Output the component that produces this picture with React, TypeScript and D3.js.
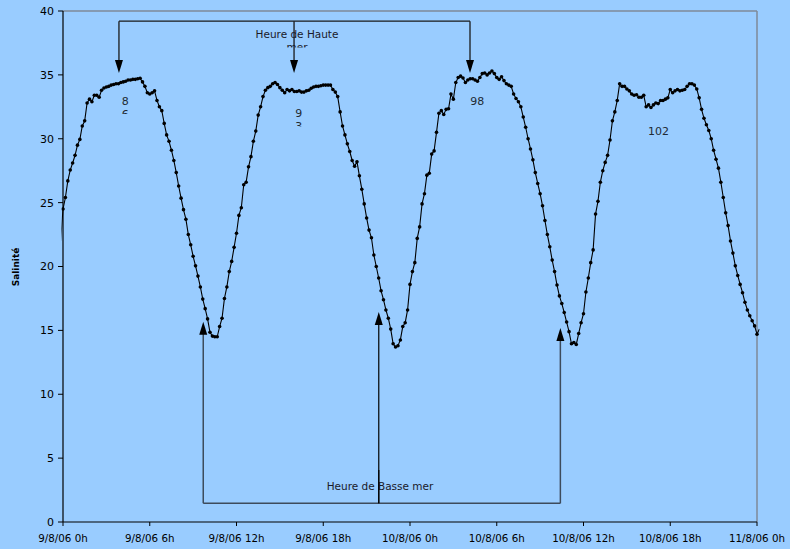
import React from "react";
import * as d3 from "d3";

// Salinity every 10 minutes, starting 10 minutes before 9/8/06 0h
const startHour = -1 / 6;
const stepHours = 1 / 6;
const salinity = [
  22.0, 24.5, 25.4, 26.7, 27.55, 28.1, 28.7, 29.5, 29.95, 31.0, 31.4,
  32.8, 33.1, 32.9, 33.4, 33.4, 33.25, 33.8, 33.97, 34.05, 34.1,
  34.2, 34.25, 34.3, 34.3, 34.4, 34.45, 34.5, 34.6, 34.6, 34.65,
  34.65, 34.7, 34.73, 34.45, 34.1, 33.6, 33.5, 33.6, 33.75, 33.0,
  32.5, 32.2, 31.2, 30.3, 29.8, 29.1, 28.3, 27.35, 26.3, 25.35,
  24.45, 23.7, 22.5, 21.7, 20.8, 20.05, 19.25, 18.4, 17.45, 16.7,
  15.9, 14.85, 14.55, 14.5, 14.5, 15.3, 15.95, 17.5, 18.4, 19.6,
  20.4, 21.5, 22.6, 24.0, 24.6, 26.4, 26.6, 27.8, 28.6, 29.8,
  30.6, 31.85, 32.5, 33.3, 33.8, 34.0, 34.1, 34.3, 34.4, 34.25,
  34.0, 33.8, 33.6, 33.85, 33.75, 33.85, 33.7, 33.7, 33.75, 33.65,
  33.65, 33.75, 33.8, 33.95, 34.05, 34.1, 34.1, 34.15, 34.2, 34.2,
  34.2, 34.2, 33.85, 33.65, 33.3, 32.1, 31.0, 30.3, 29.6, 29.0,
  28.3, 27.85, 28.2, 27.1, 26.05, 24.9, 23.8, 22.85, 22.25, 20.9,
  20.0, 19.1, 18.1, 17.4, 16.6, 15.95, 15.1, 13.95, 13.7, 13.8,
  14.25, 15.3, 15.6, 16.6, 18.6, 19.6, 20.3, 22.2, 23.1, 24.9,
  25.7, 27.15, 27.3, 28.8, 29.05, 30.5, 32.0, 32.2, 31.9, 32.3,
  32.35, 33.5, 33.1, 34.4, 34.8, 34.9, 34.75, 34.4, 34.6, 34.7,
  34.7, 34.6, 34.5, 34.8, 35.1, 35.15, 35.0, 35.15, 35.3, 35.1,
  34.8, 34.65, 34.85, 34.55, 34.3, 34.2, 34.1, 33.5, 33.15, 32.9,
  32.5, 31.7, 30.9, 30.0, 29.2, 28.35, 27.35, 26.5, 25.7, 24.75,
  23.6, 22.5, 21.55, 20.5, 19.6, 18.55, 17.7, 17.1, 16.4, 15.65,
  14.9, 13.95, 14.05, 13.9, 14.75, 15.6, 16.3, 18.0, 19.1, 20.3,
  21.3, 24.1, 25.1, 26.6, 27.5, 28.15, 28.7, 29.9, 31.4, 32.1,
  33.0, 34.3, 34.1, 34.1, 33.9, 33.75, 33.5, 33.4, 33.45, 33.25,
  33.25, 33.4, 32.5, 32.65, 32.45, 32.65, 32.8, 32.75, 33.0, 33.0,
  33.1, 33.2, 33.85, 33.6, 33.75, 33.85, 33.75, 33.8, 33.85, 34.1,
  34.3, 34.3, 34.2, 33.9, 33.2, 32.3, 31.6, 31.1, 30.65, 30.0,
  29.1, 28.4, 27.7, 26.6, 25.4, 24.2, 23.2, 22.0, 21.05, 20.05,
  19.3, 18.6, 17.95, 17.2, 16.6, 16.15, 15.75, 15.35, 14.7, 15.1,
];

const xTickHours = [0, 6, 12, 18, 24, 30, 36, 42, 48];
const xTickLabels = [
  "9/8/06 0h", "9/8/06 6h", "9/8/06 12h", "9/8/06 18h",
  "10/8/06 0h", "10/8/06 6h", "10/8/06 12h", "10/8/06 18h", "11/8/06 0h",
];
const yTicks = [0, 5, 10, 15, 20, 25, 30, 35, 40];

// High tide arrows (hour, salinity at arrow tip), low tide arrows
const highTideHours = [3.87, 15.98, 28.15];
const highTideTip = 35.15;
const highTideBar = 39.2;
const lowTideHours = [9.7, 21.84, 34.4];
const lowTideTips = [15.68, 16.44, 15.19];
const lowTideBar = 1.46;

// Tide coefficient labels (hour, salinity of baseline, text lines)
const coefLabels = [
  { h: 4.3, v: 32.65, lines: ["8", "6"] },
  { h: 16.3, v: 31.68, lines: ["9", "3"] },
  { h: 28.65, v: 32.65, lines: ["98"] },
  { h: 41.18, v: 30.3, lines: ["102"] },
];

const W = 790;
const H = 549;
const FONT = "'DejaVu Sans', Verdana, sans-serif";

export default function App() {
  const x = d3.scaleLinear().domain([0, 48]).range([63, 757]);
  const y = d3.scaleLinear().domain([0, 40]).range([522, 11]);

  const pts = salinity.map((v, i) => ({ h: startHour + i * stepHours, v }));
  const line = d3
    .line<{ h: number; v: number }>()
    .x((d) => x(d.h))
    .y((d) => y(d.v));
  const markers = pts.filter((d) => d.h >= -1e-6 && d.h <= 48 + 1e-6);

  const arrowDown = (cx: number, tipY: number) =>
    `M${cx - 4},${tipY - 13} L${cx + 4},${tipY - 13} L${cx},${tipY} Z`;
  const arrowUp = (cx: number, tipY: number) =>
    `M${cx - 4},${tipY + 13} L${cx + 4},${tipY + 13} L${cx},${tipY} Z`;

  const x0 = x(0);
  const x1 = x(48);

  return (
    <svg
      width={W}
      height={H}
      style={{ position: "absolute", left: 0, top: 0, background: "#99CCFF" }}
      fontFamily={FONT}
    >
      <defs>
        <clipPath id="plotClip">
          <rect x={61.5} y={0} width={698} height={H} />
        </clipPath>
        <clipPath id="merClip">
          <rect x={0} y={0} width={W} height={47.5} />
        </clipPath>
        {coefLabels.map((c, i) => (
          <clipPath id={`coefClip${i}`} key={i}>
            <rect x={0} y={0} width={W} height={y(c.v) + 9.2} />
          </clipPath>
        ))}
      </defs>
      <rect x={0} y={0} width={W} height={H} fill="#99CCFF" />

      {/* plot frame */}
      <line x1={x0} x2={x1} y1={y(40)} y2={y(40)} stroke="#7f8a99" strokeWidth={1.5} />
      <line x1={x1} x2={x1} y1={y(40)} y2={y(0)} stroke="#7f8a99" strokeWidth={1.5} />

      {/* y axis */}
      <line x1={x0} x2={x0} y1={y(40)} y2={y(0)} stroke="#000" strokeWidth={1.2} />
      {yTicks.map((t) => (
        <g key={t}>
          <line x1={x0 - 5} x2={x0} y1={y(t)} y2={y(t)} stroke="#000" strokeWidth={1} />
          <text
            x={x0 - 9}
            y={y(t)}
            dy="0.36em"
            textAnchor="end"
            fontSize={11}
            fill="#000"
          >
            {t}
          </text>
        </g>
      ))}
      <text
        transform={`translate(19,${267}) rotate(-90)`}
        textAnchor="middle"
        fontSize={9}
        fontWeight="bold"
        fill="#000"
      >
        Salinité
      </text>

      {/* x axis */}
      <line x1={x0} x2={x1} y1={y(0)} y2={y(0)} stroke="#000" strokeWidth={1.2} />
      {xTickHours.map((h, i) => (
        <g key={h}>
          <line x1={x(h)} x2={x(h)} y1={y(0)} y2={y(0) + 4} stroke="#000" strokeWidth={1} />
          <text x={x(h)} y={542} textAnchor="middle" fontSize={10.3} fill="#000">
            {xTickLabels[i]}
          </text>
        </g>
      ))}

      {/* series */}
      <g clipPath="url(#plotClip)">
        <path d={line(pts) || ""} fill="none" stroke="#000" strokeWidth={1.1} />
        {markers.map((d, i) => (
          <circle key={i} cx={x(d.h)} cy={y(d.v)} r={1.8} fill="#000" />
        ))}
      </g>

      {/* high tide annotation */}
      <line
        x1={x(highTideHours[0])}
        x2={x(highTideHours[2])}
        y1={y(highTideBar)}
        y2={y(highTideBar)}
        stroke="#1a1a1a"
        strokeWidth={1.3}
      />
      {highTideHours.map((h) => (
        <g key={h}>
          <line
            x1={x(h)}
            x2={x(h)}
            y1={y(highTideBar)}
            y2={y(highTideTip) - 12}
            stroke="#1a1a1a"
            strokeWidth={1.3}
          />
          <path d={arrowDown(x(h), y(highTideTip))} fill="#000" />
        </g>
      ))}
      <text x={297} y={37.5} textAnchor="middle" fontSize={10.5} fill="#1a1a2a">
        Heure de Haute
      </text>
      <g clipPath="url(#merClip)">
        <text x={297} y={51} textAnchor="middle" fontSize={10.5} fill="#1a1a2a">
          mer
        </text>
      </g>

      {/* tide coefficients */}
      {coefLabels.map((c, i) => (
        <g key={i} clipPath={`url(#coefClip${i})`}>
          {c.lines.map((s, j) => (
            <text
              key={j}
              x={x(c.h)}
              y={y(c.v) + j * 13}
              textAnchor="middle"
              fontSize={11}
              fill="#222a33"
            >
              {s}
            </text>
          ))}
        </g>
      ))}

      {/* low tide annotation */}
      <line
        x1={x(lowTideHours[0])}
        x2={x(lowTideHours[2])}
        y1={y(lowTideBar)}
        y2={y(lowTideBar)}
        stroke="#3d4b5c"
        strokeWidth={1.5}
      />
      {lowTideHours.map((h, i) => (
        <g key={h}>
          <line
            x1={x(h)}
            x2={x(h)}
            y1={y(lowTideBar)}
            y2={y(lowTideTips[i]) + 12}
            stroke={i === 1 ? "#000" : "#3d4b5c"}
            strokeWidth={i === 1 ? 1.2 : 1.5}
          />
          <path d={arrowUp(x(h), y(lowTideTips[i]))} fill="#000" />
        </g>
      ))}
      <text x={380} y={489.5} textAnchor="middle" fontSize={10.5} fill="#1a1a2a">
        Heure de Basse mer
      </text>
      <line
        x1={x(lowTideHours[1])}
        x2={x(lowTideHours[1])}
        y1={y(lowTideBar)}
        y2={470}
        stroke="#000"
        strokeWidth={1.2}
      />
    </svg>
  );
}
